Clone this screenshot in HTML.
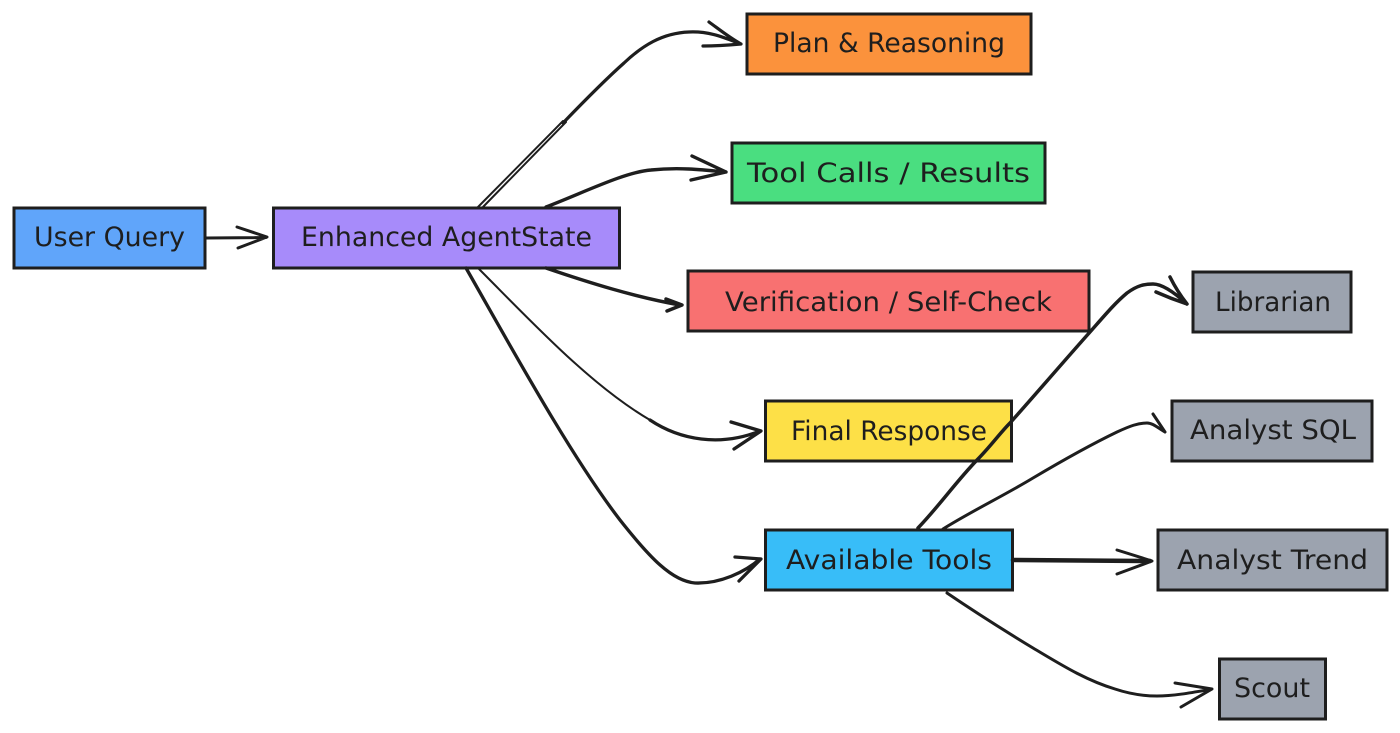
<!DOCTYPE html>
<html><head><meta charset="utf-8"><style>
html,body{margin:0;padding:0;background:#fff;width:1400px;height:733px;overflow:hidden}
svg{display:block}
text{font-family:"DejaVu Sans","Liberation Sans",sans-serif;font-size:27px;fill:#1e1e1e;text-anchor:start;font-weight:400}
.b{stroke:#1e1e1e;stroke-width:3}
.l{fill:none;stroke:#1e1e1e;stroke-width:3;stroke-linecap:round;stroke-linejoin:round}
</style></head><body>
<svg width="1400" height="733" viewBox="0 0 1400 733" xmlns="http://www.w3.org/2000/svg">
<rect class="b" x="14" y="208" width="191" height="60" fill="#60a5fa"/>
<rect class="b" x="273.500" y="208" width="346" height="60" fill="#a78bfa"/>
<rect class="b" x="747" y="14" width="284" height="60" fill="#fb923c"/>
<rect class="b" x="732" y="143" width="313" height="60" fill="#4ade80"/>
<rect class="b" x="688" y="271" width="401" height="60" fill="#f87171"/>
<rect class="b" x="765.500" y="401" width="246" height="60" fill="#fde047"/>
<rect class="b" x="765.500" y="530" width="247" height="60" fill="#38bdf8"/>
<rect class="b" x="1193" y="272" width="158" height="60" fill="#9ca3af"/>
<rect class="b" x="1172" y="401" width="200" height="60" fill="#9ca3af"/>
<rect class="b" x="1158" y="530" width="229" height="60" fill="#9ca3af"/>
<rect class="b" x="1219.500" y="659" width="106" height="60" fill="#9ca3af"/>

<g>
<path class="l" d="M206 238L266 237.500M237 227L267 237L238 248"/>

<path class="l" style="stroke-width:2" d="M477 208L563 121"/>
<path class="l" style="stroke-width:2" d="M482 208L566 122"/>
<path class="l" style="stroke-width:3.200" d="M563 123C590 95 606 79 624 63C642 46 662 33 689 32C710 31 725 38 741 44M709 22C720 30 730 38 741 44M703 46C716 46 730 45 741 44"/>

<path class="l" style="stroke-width:3.400" d="M546 207C585 192 625 172 651 170C680 167 705 170 725 172M692 156L726 172M691 180L726 172"/>

<path class="l" style="stroke-width:3.500" d="M546 268C590 283 635 297 680 305M666 299L682 305L667 311"/>

<path class="l" style="stroke-width:2" d="M478 268C530 320 590 385 650 420"/>
<path class="l" style="stroke-width:3.300" d="M650 420C680 440 720 447 760 431M731 422L761 431L734 449"/>

<path class="l" style="stroke-width:3.300" d="M466 268C510 345 570 455 620 520C650 558 672 581 695 583C720 584 745 572 760 559M735 557L761 559L739 581"/>

<path class="l" style="stroke-width:3.500" d="M918 528C940 505 955 483 977 460C990 447 1000 433 1010 423C1035 395 1065 360 1090 332C1105 315 1115 303 1127 293C1138 285 1145 284 1153 284C1162 284 1175 293 1187 304M1170 277C1175 287 1180 295 1187 304M1156 292C1165 296 1175 300 1187 304"/>

<path class="l" style="stroke-width:3" d="M943 529C970 512 1005 495 1033 478C1060 462 1090 445 1117 432C1130 426 1138 423 1147 423C1153 423 1158 428 1165 432M1153 414C1157 420 1161 426 1165 432"/>

<path class="l" style="stroke-width:4.500" d="M1013 560L1150 561"/>
<path class="l" d="M1117 550L1152 561L1117 574"/>

<path class="l" style="stroke-width:3" d="M947 593C975 612 1005 631 1033 648C1060 664 1085 680 1115 689C1130 694 1145 696 1157 696C1175 696 1195 692 1212 689M1175 683L1212 689L1181 707"/>
</g>

<text x="34" y="246" textLength="151" lengthAdjust="spacingAndGlyphs">User Query</text>
<text x="301" y="246" textLength="291" lengthAdjust="spacingAndGlyphs">Enhanced AgentState</text>
<text x="773" y="52" textLength="232" lengthAdjust="spacingAndGlyphs">Plan &amp; Reasoning</text>
<text x="747" y="182" textLength="283" lengthAdjust="spacingAndGlyphs">Tool Calls / Results</text>
<text x="725" y="311" textLength="327" lengthAdjust="spacingAndGlyphs">Verification / Self-Check</text>
<text x="791" y="440" textLength="196" lengthAdjust="spacingAndGlyphs">Final Response</text>
<text x="786" y="569" textLength="206" lengthAdjust="spacingAndGlyphs">Available Tools</text>
<text x="1215" y="311" textLength="116" lengthAdjust="spacingAndGlyphs">Librarian</text>
<text x="1190" y="439" textLength="166" lengthAdjust="spacingAndGlyphs">Analyst SQL</text>
<text x="1177" y="569" textLength="191" lengthAdjust="spacingAndGlyphs">Analyst Trend</text>
<text x="1234" y="697" textLength="76" lengthAdjust="spacingAndGlyphs">Scout</text>
</svg>
</body></html>
